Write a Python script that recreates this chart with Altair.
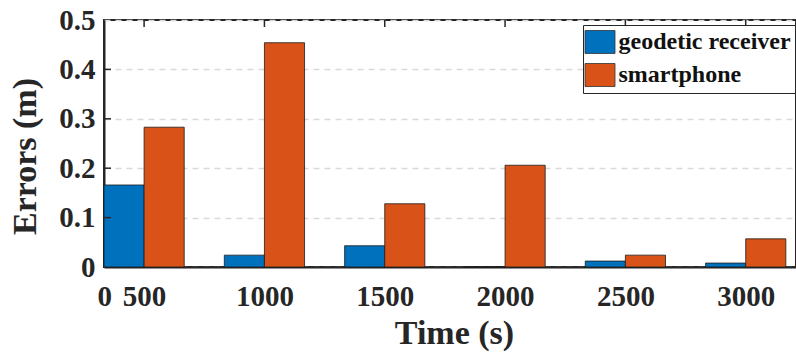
import altair as alt
import pandas as pd

times = [500, 1000, 1500, 2000, 2500, 3000]
geodetic = [0.166, 0.024, 0.043, 0.0, 0.012, 0.008]
smartphone = [0.283, 0.454, 0.128, 0.206, 0.024, 0.057]
series_names = ["geodetic receiver", "smartphone"]
colors = ["#0072BD", "#D95319"]
x_tick_values = [334, 500, 1000, 1500, 2000, 2500, 3000]
x_tick_labels = ["0", "500", "1000", "1500", "2000", "2500", "3000"]
y_tick_values = [0, 0.1, 0.2, 0.3, 0.4, 0.5]
y_inner_ticks = [0.1, 0.2, 0.3, 0.4]

rows = []
for t, g, s in zip(times, geodetic, smartphone):
    rows.append({"time": t, "series": series_names[0], "value": g})
    rows.append({"time": t, "series": series_names[1], "value": s})
df = pd.DataFrame(rows)
df_xt = pd.DataFrame({"x0": times})
df_yt = pd.DataFrame({"value": y_inner_ticks})

FONT = "Liberation Serif"
TXT = "#262626"
BW = 500 / 3

label_expr = " : ".join(
    [f"datum.value == {v} ? '{l}'" for v, l in zip(x_tick_values, x_tick_labels)]
) + " : ''"

xscale = alt.Scale(domain=[500 - BW, 3209], nice=False, zero=False)
yscale = alt.Scale(domain=[0, 0.5], nice=False)

xaxis = alt.Axis(
    orient="bottom", values=x_tick_values, labelExpr=label_expr,
    ticks=False, grid=False, domain=True, domainColor=TXT, domainWidth=2,
    labelFont=FONT, labelFontWeight="bold", labelFontSize=29, labelColor=TXT,
    labelPadding=15, labelOverlap=False, labelFlush=False,
    title="Time (s)", titleFont=FONT, titleFontWeight="bold", titleFontSize=34,
    titleColor=TXT, titleX=350, titleY=76, titleBaseline="alphabetic")
yaxis = alt.Axis(
    orient="left", values=y_tick_values,
    labelExpr="datum.value == 0 ? '0' : format(datum.value, '.1f')",
    ticks=False, domain=True, domainColor=TXT, domainWidth=2,
    grid=True, gridColor="#d9d9d9", gridDash=[6, 5], gridWidth=1.5,
    labelFont=FONT, labelFontWeight="bold", labelFontSize=29, labelColor=TXT,
    labelPadding=9,
    title="Errors (m)", titleFont=FONT, titleFontWeight="bold", titleFontSize=34,
    titleColor=TXT, titleX=-69, titleY=136, titleBaseline="alphabetic")

bars = alt.Chart(df).transform_calculate(
    x0=f"datum.series == '{series_names[0]}' ? datum.time - {BW} : datum.time",
).transform_calculate(
    x1=f"datum.x0 + {BW}"
).mark_bar(stroke="#1a1a1a", strokeWidth=0.8).encode(
    x=alt.X("x0:Q", scale=xscale, axis=xaxis),
    x2="x1:Q",
    y=alt.Y("value:Q", scale=yscale, axis=yaxis),
    y2=alt.datum(0),
    color=alt.Color("series:N", scale=alt.Scale(domain=series_names, range=colors),
                    legend=alt.Legend(
                        title=None, orient="none", legendX=479, legendY=5,
                        fillColor="white", strokeColor=TXT, padding=4,
                        symbolType="M-1.2,-0.92H1.2V0.92H-1.2Z", symbolSize=625,
                        symbolStrokeColor="#333333", symbolStrokeWidth=0.8,
                        symbolOpacity=1, rowPadding=5, labelOffset=5.5,
                        labelFont=FONT, labelFontWeight="bold", labelFontSize=24,
                        labelColor="#111111", labelLimit=400)),
)

xticks = alt.Chart(df_xt).mark_rule(color=TXT, strokeWidth=1.5).encode(
    x=alt.X("x0:Q", scale=xscale, axis=xaxis),
    y=alt.value(0), y2=alt.value(7),
)
yticks = alt.Chart(df_yt).mark_rule(color=TXT, strokeWidth=1.5).encode(
    y=alt.Y("value:Q", scale=yscale, axis=yaxis),
    x=alt.value(0), x2=alt.value(7),
)

chart = alt.layer(bars, xticks, yticks).properties(
    width=692, height=247,
    autosize=alt.AutoSizeParams(type="none"),
    padding={"left": 104, "top": 20, "right": 0, "bottom": 87},
    background="white",
).configure_view(stroke=TXT, strokeWidth=2)

chart.save("out.html", embed_options={"renderer": "svg", "actions": False})
